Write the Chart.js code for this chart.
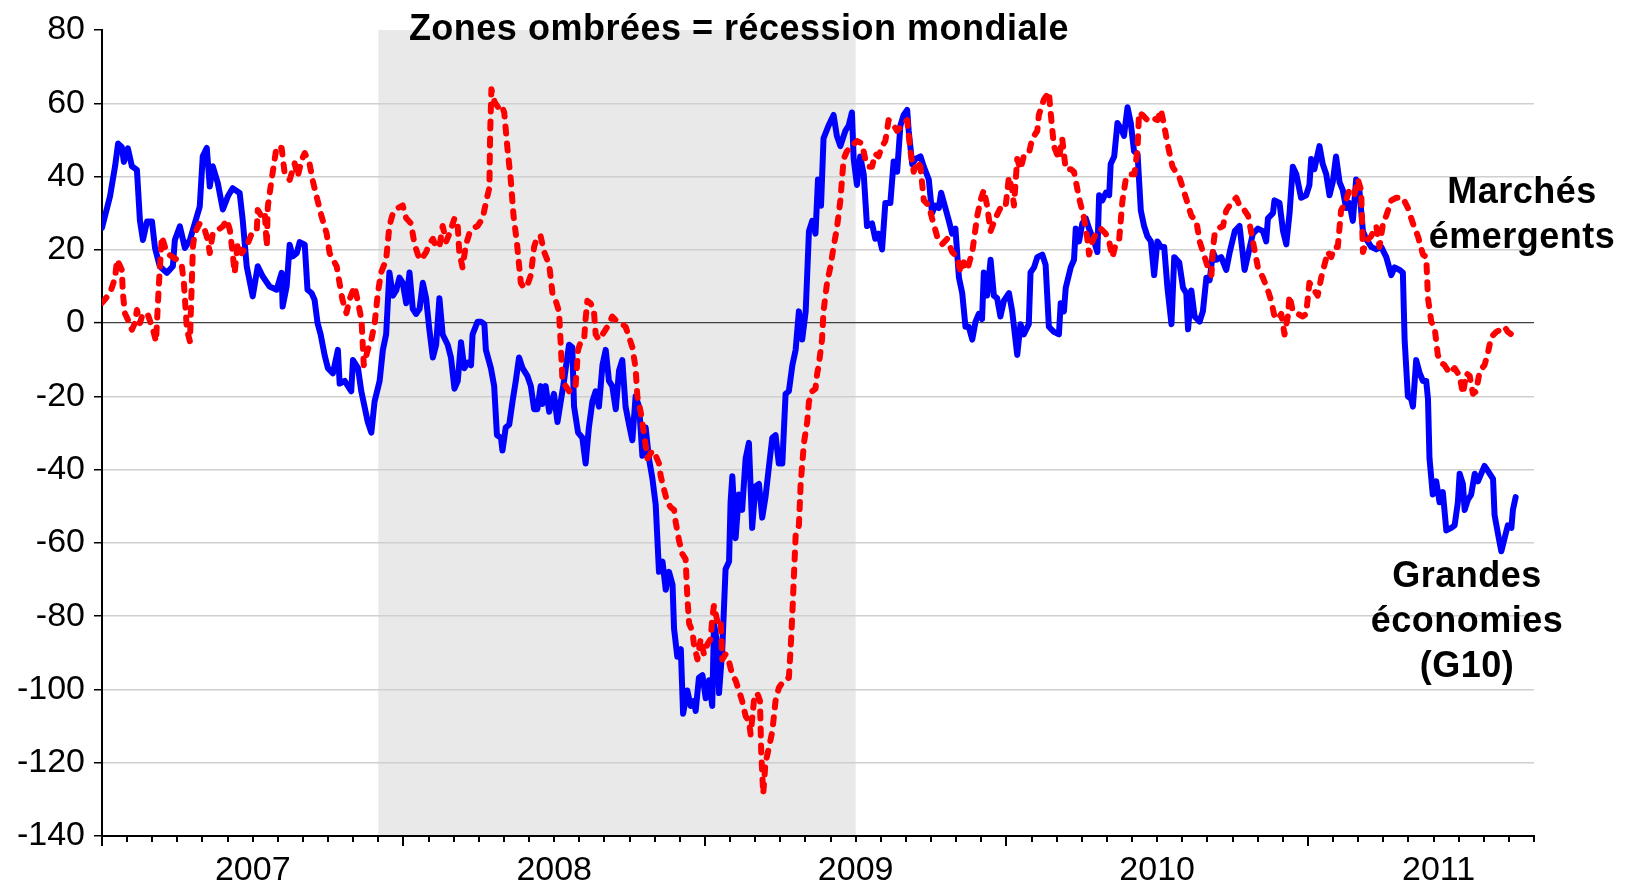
<!DOCTYPE html>
<html>
<head>
<meta charset="utf-8">
<script src="https://cdn.jsdelivr.net/npm/chart.js@4.4.0/dist/chart.umd.min.js"></script>
<style>
  html, body { margin: 0; padding: 0; background: #ffffff; }
  #wrap { position: relative; width: 1627px; height: 886px; }
  canvas { position: absolute; left: 0; top: 0; }
  .note { position: absolute; width: 900px; text-align: center; font-family: 'Liberation Sans', Arial, sans-serif;
          font-weight: bold; font-size: 36px; line-height: 36px; letter-spacing: 0.5px; color: #000; white-space: nowrap; }
</style>
</head>
<body>
<div id="wrap">
  <canvas id="c" width="1627" height="886"></canvas>
  <div class="note" style="left:289px; top:10px;">Zones ombrées = récession mondiale</div>
  <div class="note" style="left:1072px; top:173px;">Marchés</div>
  <div class="note" style="left:1072px; top:218px;">émergents</div>
  <div class="note" style="left:1017px; top:557px;">Grandes</div>
  <div class="note" style="left:1017px; top:602px;">économies</div>
  <div class="note" style="left:1017px; top:647px;">(G10)</div>
</div>
<script>
// x values are months since January 2007
const yearLabels = ['2007', '2008', '2009', '2010', '2011'];
const yearLabelPos = [6, 18, 30, 42, 53.2];
const yMin = -140, yMax = 80, yStep = 20;
const xMin = 0, xMax = 57;
const recessionStart = 11;  // Dec 2007
const recessionEnd = 30;    // Jul 2009

// Grandes économies (G10) - blue solid
const blueX = [0,0.32,0.52,0.64,0.79,0.87,1.03,1.19,1.39,1.51,1.63,1.79,1.99,2.11,2.30,2.58,2.82,2.90,3.10,3.30,3.50,3.77,3.89,4.01,4.17,4.29,4.41,4.61,4.81,5.01,5.20,5.48,5.60,5.76,6.00,6.20,6.40,6.67,6.95,7.15,7.19,7.35,7.47,7.59,7.75,7.87,8.07,8.18,8.34,8.46,8.58,8.70,8.86,8.99,9.19,9.39,9.46,9.66,9.79,9.92,9.99,10.19,10.32,10.45,10.58,10.72,10.85,11.05,11.18,11.31,11.44,11.58,11.71,11.84,11.97,12.11,12.24,12.37,12.50,12.64,12.77,12.90,13.03,13.17,13.30,13.43,13.56,13.76,13.89,14.03,14.16,14.29,14.42,14.55,14.69,14.75,14.95,15.08,15.22,15.28,15.48,15.61,15.72,15.88,15.94,16.07,16.21,16.34,16.47,16.60,16.74,16.93,17.07,17.20,17.33,17.46,17.53,17.66,17.80,17.99,18.13,18.26,18.39,18.59,18.72,18.79,18.95,19.12,19.25,19.38,19.52,19.65,19.78,19.92,20.05,20.18,20.31,20.45,20.58,20.71,20.84,20.98,21.11,21.24,21.38,21.51,21.64,21.77,21.91,22.04,22.17,22.31,22.44,22.57,22.71,22.77,22.90,23.04,23.13,23.30,23.43,23.56,23.63,23.76,23.90,24.03,24.16,24.29,24.36,24.49,24.56,24.69,24.82,24.96,25.02,25.09,25.22,25.35,25.48,25.62,25.75,25.88,26.01,26.15,26.28,26.41,26.55,26.68,26.81,26.94,27.08,27.21,27.34,27.48,27.61,27.74,27.87,28.01,28.14,28.27,28.40,28.50,28.62,28.72,28.92,29.12,29.25,29.39,29.59,29.72,29.85,29.92,30.05,30.18,30.32,30.45,30.65,30.78,30.91,31.05,31.18,31.38,31.51,31.65,31.78,31.91,32.05,32.11,32.25,32.38,32.58,32.71,32.91,33.04,33.17,33.31,33.40,33.57,33.71,33.84,33.97,34.11,34.24,34.37,34.50,34.64,34.77,34.90,35.03,35.10,35.23,35.37,35.50,35.63,35.76,35.90,36.10,36.23,36.36,36.43,36.56,36.69,36.89,36.96,37.10,37.23,37.43,37.56,37.69,37.89,38.09,38.16,38.29,38.36,38.56,38.69,38.76,38.89,39.02,39.16,39.29,39.49,39.62,39.69,39.82,39.96,40.09,40.15,40.29,40.42,40.55,40.68,40.82,40.95,41.08,41.22,41.35,41.48,41.61,41.75,41.88,42.01,42.15,42.28,42.41,42.57,42.68,42.88,43.03,43.16,43.23,43.36,43.49,43.69,43.82,43.96,44.09,44.22,44.35,44.55,44.75,44.89,45.09,45.28,45.48,45.62,45.81,46.01,46.21,46.34,46.41,46.61,46.67,46.87,47.01,47.14,47.27,47.40,47.54,47.73,47.93,48.06,48.13,48.26,48.46,48.59,48.73,48.86,48.99,49.12,49.26,49.39,49.52,49.65,49.79,49.92,50.05,50.19,50.32,50.52,50.72,50.92,51.12,51.32,51.45,51.65,51.78,51.85,51.98,52.11,52.18,52.31,52.45,52.58,52.71,52.78,52.84,52.97,53.11,53.24,53.37,53.51,53.71,53.84,53.97,54.04,54.17,54.24,54.37,54.50,54.64,54.77,54.90,55.03,55.17,55.37,55.43,55.56,55.70,55.83,55.96,56.10,56.16,56.27];
const blueY = [26,34.6,42.8,49,48,44,47.7,42.8,41.8,28,22.7,27.7,27.7,20.5,15.5,13.7,15.5,22.7,26.4,20.5,22.7,29,31.8,45.5,47.8,37.3,42.8,38.2,31,34.6,36.8,35.5,28.2,15.5,7.3,15.5,12.7,10,9.1,13.7,4.5,10,21.4,18.2,19.1,22.1,21.4,9.1,8.2,6.4,0,-3,-8.7,-12.3,-13.7,-7.3,-16.5,-15.8,-17.2,-18.6,-10.1,-12.3,-18.6,-22.8,-27,-29.9,-21.4,-15.8,-7.3,-3.1,13.8,7.5,8.9,12.4,11,5.4,13.8,3.9,2.5,3.9,11,6.8,-1.7,-9.4,-5.9,6.8,-3.1,-5.9,-9.4,-17.9,-15.8,-5.2,-12.3,-10.8,-11.5,-3.1,0.4,0.4,-0.3,-7.3,-12.3,-17.2,-30.6,-31.3,-34.8,-28.5,-27.7,-21.4,-15.8,-9.4,-12.3,-14.4,-17.2,-23.5,-23.5,-17.2,-22.1,-17.2,-24.2,-19.3,-27,-21.4,-15.8,-5.9,-6.6,-22.8,-29.9,-31.3,-38.3,-28.5,-21.4,-18.6,-22.8,-11.5,-7.3,-15.8,-17.2,-23.5,-13,-10.1,-22.8,-27.7,-32,-20,-22.8,-36.2,-28.5,-36.9,-42.5,-49.6,-67.9,-65.1,-72.8,-67.9,-71.4,-83.4,-91.1,-89,-106.6,-100.3,-104.5,-103.1,-105.9,-96.8,-96.1,-102.4,-97.5,-104.5,-82,-87.6,-101,-89,-67.2,-65.1,-48.9,-41.8,-58.7,-46.8,-51,-36.9,-32.7,-55.9,-44.6,-43.9,-53.1,-47.5,-39,-31.3,-30.6,-38.3,-38.3,-19.3,-18.6,-11.5,-7.3,3.2,-4.5,3.2,25.1,27.9,24.4,39.2,32,50.4,53.9,56.8,51.1,48.3,52.5,53.9,57.5,44.8,37.7,45.5,40.6,26.5,27.2,23,24.4,20.1,32.8,32.8,44.1,41.3,53.9,56.8,58.2,52.5,43.4,44.8,45.5,42.7,39.2,30,32.1,31.4,35.6,31.4,27.9,24.4,25.8,12.4,8.2,-1,-1,-4.5,0.4,2.5,1.1,13.8,7.5,17.3,7.5,6.8,1.8,6.1,8.2,3.2,-4.5,-8.7,-0.3,-3.1,-0.3,13.8,15.2,18,18.7,15.9,-1,-2.4,-3.1,5.4,3.2,9.6,15.2,17.3,25.8,22.3,27.2,28.6,25.8,22.3,19.4,34.9,33.5,35.6,34.9,43.4,45.5,54.6,53.2,51.1,58.9,54.6,46.9,46.2,30.7,26.5,23.7,22.3,13.1,22.3,20.8,20.8,9.6,-0.3,18,16.5,9.6,8.2,-1.7,8.9,1.8,0.4,3.2,12.4,11.7,19.4,17.3,18,14.5,19.4,25.1,26.5,14.5,18.7,24.4,25.8,25.1,22.3,28.6,30,33.5,32.8,25.1,21.5,30,42.7,40.6,34.2,34.9,37.7,44.8,42,48.3,43.4,40.6,34.9,38.5,45.5,38.5,36.3,31.4,32.8,27.9,39.2,36.3,25.1,23,20.8,20.1,20.8,18,13.1,15.2,14.5,13.8,-4.5,-20,-20.7,-22.8,-10.1,-13.7,-15.8,-15.8,-20.7,-36.9,-46.8,-43.2,-48.9,-46.1,-56.6,-55.9,-55.2,-48.9,-41.1,-43.9,-51,-48.2,-46.8,-41.1,-43.2,-41.1,-39,-40.4,-42.5,-52.4,-57.3,-62.3,-58.7,-55.2,-55.9,-51,-47.5];

// Marchés émergents - red dashed
const redX = [0,0.32,0.52,0.60,0.79,0.83,0.91,1.03,1.19,1.31,1.39,1.51,1.63,1.83,2.03,2.15,2.26,2.38,2.58,2.78,2.98,3.18,3.26,3.38,3.50,3.62,3.69,3.89,4.09,4.21,4.29,4.41,4.61,4.81,4.97,5.09,5.20,5.28,5.40,5.56,5.76,5.96,6.16,6.20,6.36,6.48,6.56,6.60,6.75,6.95,7.15,7.27,7.47,7.67,7.79,7.95,8.07,8.26,8.38,8.54,8.74,8.94,9.06,9.34,9.57,9.73,9.85,10.05,10.17,10.33,10.42,10.58,10.72,10.85,10.98,11.11,11.31,11.44,11.58,11.77,11.97,12.11,12.30,12.44,12.64,12.77,12.90,13.03,13.17,13.30,13.43,13.56,13.70,13.83,14.03,14.16,14.22,14.35,14.49,14.62,14.75,14.95,15.15,15.28,15.42,15.45,15.50,15.63,15.77,15.90,16.01,16.14,16.27,16.38,16.51,16.67,16.80,16.93,17.07,17.20,17.33,17.46,17.60,17.80,17.93,18.06,18.19,18.26,18.33,18.46,18.59,18.72,18.85,18.95,19.05,19.19,19.25,19.32,19.45,19.58,19.65,19.78,19.92,20.05,20.18,20.31,20.51,20.71,20.84,20.98,21.11,21.24,21.31,21.44,21.57,21.71,21.91,22.04,22.17,22.24,22.37,22.50,22.64,22.77,22.84,22.97,23.10,23.23,23.30,23.37,23.50,23.56,23.70,23.83,23.96,24.10,24.23,24.29,24.36,24.49,24.62,24.69,24.82,24.96,25.09,25.22,25.35,25.48,25.62,25.75,25.82,25.95,26.08,26.19,26.24,26.32,26.41,26.55,26.68,26.81,26.94,27.14,27.34,27.41,27.48,27.54,27.61,27.74,27.81,27.94,28.07,28.14,28.27,28.40,28.47,28.53,28.66,28.72,28.86,28.99,29.12,29.25,29.39,29.52,29.65,29.85,30.05,30.25,30.38,30.52,30.65,30.78,30.91,31.05,31.18,31.31,31.45,31.65,31.85,32.05,32.18,32.31,32.45,32.58,32.71,32.91,33.04,33.24,33.44,33.64,33.84,34.04,34.17,34.30,34.44,34.64,34.84,34.97,35.10,35.23,35.37,35.56,35.76,35.96,36.10,36.23,36.30,36.43,36.56,36.69,36.89,37.03,37.23,37.29,37.49,37.69,37.76,37.89,38.09,38.22,38.36,38.56,38.69,38.89,39.09,39.22,39.29,39.42,39.56,39.75,39.95,40.09,40.22,40.35,40.49,40.62,40.75,40.89,41.09,41.22,41.28,41.42,41.61,41.81,42.01,42.15,42.28,42.41,42.61,42.88,43.05,43.36,43.56,43.69,43.89,44.02,44.16,44.22,44.29,44.42,44.62,44.75,44.95,45.15,45.28,45.48,45.62,45.81,46.01,46.21,46.41,46.54,46.67,46.80,46.94,47.07,47.20,47.27,47.40,47.60,47.80,47.93,48.06,48.26,48.39,48.53,48.66,48.79,48.93,49.06,49.19,49.32,49.52,49.65,49.85,49.99,50.12,50.19,50.32,50.52,50.72,50.85,50.99,51.12,51.32,51.52,51.78,51.98,52.18,52.38,52.58,52.71,52.78,52.91,53.04,53.17,53.31,53.44,53.64,53.84,54.04,54.17,54.31,54.44,54.57,54.70,54.84,55.03,55.17,55.30,55.50,55.70,55.83,55.96,56.10,56.16];
const redY = [5.5,8.2,12.3,17.3,14.5,8.2,2.7,0.9,-1.8,0,3.6,0,2.7,2.2,-1.8,-5,10,23.6,19.1,18.2,17.3,15.5,10.9,-1.8,-5,20.9,24.5,27.2,25.4,22.7,19.1,24.5,25.4,26.4,28.2,25.4,19.1,13.7,21.8,19.1,20.9,24.5,25.4,30.9,29,30,20.9,31.8,39.1,48.2,47.8,40.9,39.1,43.6,40,44.6,46.4,43.6,39.1,34.6,29.1,24.5,19.1,15.5,6.4,2.7,6.4,10,6.4,0.9,-11.5,-7.3,-4.5,-0.3,8.2,13.8,17.3,26.5,30,31.4,32.1,28.6,27.2,21.5,17.3,18,19.4,21.5,23,20.8,20.8,26.5,22.3,24.4,28.6,26.5,19.4,15.2,21.5,24.4,25.8,26.5,28.6,32.8,37,51.8,63.8,60.3,58.9,59.6,57.5,47.6,39.2,29.3,22.3,11,9.6,10.3,13.1,20.8,23.7,23.7,19.4,15.9,8.2,6.1,3.2,-5.9,-15.8,-17.2,-18.6,-17.2,-17.2,-7.3,-5.2,-4.5,1.1,6.1,5.4,3.2,-3.1,-4.5,-3.1,-1.7,-0.3,1.8,0.4,-0.3,-1,-3.8,-6.6,-12.3,-20,-24.2,-29.9,-36.9,-34.8,-36.2,-38.3,-41.8,-45.4,-48.9,-50.3,-51,-54.5,-59.4,-63,-64.4,-74.9,-82,-84.1,-87.6,-91.8,-86.2,-90.4,-87.6,-86.2,-80.6,-77,-81.3,-80.6,-91.8,-90.4,-92.5,-96.1,-97.5,-100.3,-103.1,-107.3,-108.7,-112.3,-103.1,-101,-103.1,-117.2,-128.5,-120,-115.8,-111.5,-103.1,-99.6,-97.5,-96.8,-89,-79.2,-69.3,-58,-55.2,-43.9,-32.7,-27,-21.4,-18.6,-17.9,-13.7,-11.5,-4.5,3.2,11,15.2,20.8,25.8,33.5,44.8,46.9,48.3,49.7,49,44.8,42.7,42.7,46.2,45.5,48.3,49.7,55.4,54.6,52.5,53.9,55.4,46.9,41.3,44.1,42.7,33.5,32.1,28.6,23.7,21.5,23,19.4,18,13.8,16.6,14.5,19.4,29.3,33.5,36.3,32.1,25.1,28.6,31.4,31.4,39.9,36.3,32.1,44.8,42,45.5,46.2,50.4,52.5,56.8,61,63.1,57.5,48.3,44.8,50.4,42,42,41.3,34.2,28.6,23,18.7,22.3,24.4,25.8,24.4,22.3,18,21.5,23,33.5,39.2,40.6,40.6,47.6,57.5,56.8,55.4,56.1,55.4,58.2,53.9,49,42.7,39.9,36.3,29.3,27.9,22.3,18,15.2,13.1,20.1,24.4,25.8,26.5,30.7,32.8,34.2,32.1,30.7,29.3,22.3,15.2,12.4,8.9,6.1,1.8,1.1,2.5,-3.1,1.8,7.5,3.2,2.5,1.8,2.5,11,8.9,7.5,12.4,15.9,19.4,18,20.8,20.8,30.7,33.5,36.3,34.9,39.2,36.3,19.4,22.3,23.7,26.5,20.8,27.2,29.3,33.5,34.2,34.2,31.4,27.2,23.7,18.7,18,6.8,0.4,-1,-8.7,-10.8,-11.5,-13.7,-12.3,-14.4,-19.3,-13.7,-14.4,-19.3,-18.6,-13,-11.5,-8,-3.8,-2.4,-1.7,-1,-2.4,-3.1,-4.5];

const toPoints = (xs, ys) => xs.map((x, i) => ({ x: x, y: ys[i] }));

Chart.defaults.font.family = "'Liberation Sans', Arial, sans-serif";
Chart.defaults.color = '#000';

const backgroundAndShade = {
  id: 'backgroundAndShade',
  beforeDraw(chart) {
    const { ctx, chartArea, scales } = chart;
    ctx.save();
    ctx.fillStyle = '#ffffff';
    ctx.fillRect(0, 0, chart.width, chart.height);
    const x0 = scales.x.getPixelForValue(recessionStart);
    const x1 = scales.x.getPixelForValue(recessionEnd);
    ctx.fillStyle = '#e9e9e9';
    ctx.fillRect(x0, chartArea.top, x1 - x0, chartArea.bottom - chartArea.top);
    ctx.restore();
  },
  afterDraw(chart) {
    const { ctx, chartArea, scales } = chart;
    ctx.save();
    ctx.strokeStyle = '#000';
    ctx.lineWidth = 2;
    for (let m = xMin; m <= xMax; m++) {
      const px = Math.round(scales.x.getPixelForValue(m));
      const len = (m % 12 === 0) ? 10 : 6;
      ctx.beginPath();
      ctx.moveTo(px, chartArea.bottom);
      ctx.lineTo(px, chartArea.bottom + len);
      ctx.stroke();
    }
    ctx.restore();
  }
};

new Chart(document.getElementById('c'), {
  type: 'line',
  data: {
    datasets: [
      {
        label: 'Marchés émergents',
        data: toPoints(redX, redY),
        borderColor: '#ff0000',
        borderWidth: 6,
        borderDash: [7, 10],
        borderCapStyle: 'round',
        borderJoinStyle: 'round',
        pointRadius: 0,
        fill: false,
        tension: 0
      },
      {
        label: 'Grandes économies (G10)',
        data: toPoints(blueX, blueY),
        borderColor: '#0000ff',
        borderWidth: 6,
        borderJoinStyle: 'round',
        borderCapStyle: 'round',
        pointRadius: 0,
        fill: false,
        tension: 0
      }
    ]
  },
  options: {
    responsive: false,
    animation: false,
    devicePixelRatio: 1,
    layout: { padding: { left: 0, right: 93, top: 30, bottom: 0 } },
    plugins: { legend: { display: false }, tooltip: { enabled: false }, title: { display: false } },
    scales: {
      x: {
        type: 'linear',
        min: xMin,
        max: xMax,
        afterBuildTicks: (scale) => { scale.ticks = yearLabelPos.map(v => ({ value: v })); },
        afterFit: (scale) => { scale.height = 50; },
        ticks: {
          autoSkip: false,
          maxRotation: 0,
          padding: 14,
          font: { size: 34 },
          color: '#000',
          callback: (value, index) => yearLabels[index]
        },
        grid: { display: false, drawTicks: false },
        border: { display: true, color: '#000', width: 2 }
      },
      y: {
        type: 'linear',
        min: yMin,
        max: yMax,
        afterFit: (scale) => { scale.width = 102; },
        ticks: {
          stepSize: yStep,
          padding: 9,
          font: { size: 34 },
          color: '#000',
          callback: (value) => String(value)
        },
        grid: {
          color: (ctx) => {
            const v = ctx.tick ? ctx.tick.value : null;
            if (v === 0) return '#404040';
            if (v === yMax || v === yMin) return 'rgba(0,0,0,0)';
            return '#cfcfcf';
          },
          lineWidth: (ctx) => (ctx.tick && ctx.tick.value === 0) ? 1.2 : 1.5,
          tickColor: '#000',
          tickWidth: 1.5,
          tickLength: 8,
          drawTicks: true
        },
        border: { display: true, color: '#000', width: 2 }
      }
    }
  },
  plugins: [backgroundAndShade]
});
</script>
</body>
</html>
